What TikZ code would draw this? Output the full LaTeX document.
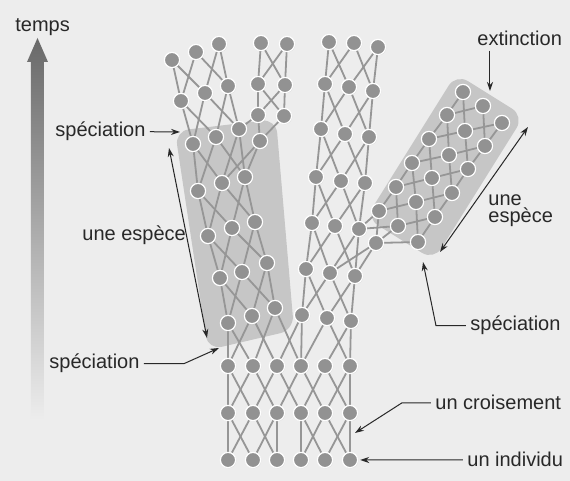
\documentclass[tikz,border=0pt]{standalone}
\usepackage{fontspec}
\setmainfont{Liberation Sans}
\usetikzlibrary{arrows.meta,calc,shadows}
\pgfdeclarelayer{paper}
\pgfdeclarelayer{bg}
\pgfsetlayers{paper,bg,main}
\definecolor{paper}{RGB}{237,237,237}
\definecolor{areagray}{RGB}{198,198,198}
\definecolor{dot}{RGB}{146,146,146}
\definecolor{linkgray}{RGB}{150,150,150}
\definecolor{timegray}{RGB}{105,105,105}
\definecolor{ink}{RGB}{40,40,40}

\begin{document}
\begin{tikzpicture}[
  x=0.5pt, y=-0.5pt,
  font=\fontsize{10}{8.5}\selectfont,
  ind/.style={circle, minimum size=7.6pt, inner sep=0pt, fill=dot, draw=white, line width=0.6pt,
    drop shadow={opacity=0.3, shadow xshift=0.3pt, shadow yshift=-0.3pt}},
  link/.style={draw=linkgray, line width=0.9pt},
  speciesarea/.style={fill=areagray, rounded corners=7pt},
  lbl/.style={inner sep=2pt, anchor=base west, text=ink},
  pointer/.style={-{Stealth[length=4.5pt,width=3pt]}, line width=0.5pt, draw=ink},
  span/.style={{Stealth[length=4.5pt,width=3pt]}-{Stealth[length=4.5pt,width=3pt]}, line width=0.5pt, draw=ink}
]
\useasboundingbox (0,0) rectangle (570,481);
\begin{pgfonlayer}{paper}
  \fill[paper] (0,0) rectangle (570,481);
\end{pgfonlayer}

% the two species
\begin{pgfonlayer}{bg}
  \path[speciesarea] (175,131) -- (276,119) -- (294,330) -- (208,350) -- cycle;
  \node[speciesarea, rotate=58, minimum width=85pt, minimum height=40pt] (sp2) at (445,167) {};
\end{pgfonlayer}

% individuals, one row per generation
\foreach \row/\pts in {
    t1/{228/460,253/460,277/460,301/460,325/460,350/460},
    t2/{228/413,253/413,277/413,301/413,325/413,350/413},
    t3/{228/366,253/366,277/366,301/366,325/366,350/366},
    a1/{228/323,252/316,275/308},
    a2/{220/278,242/272,267/263},
    a3/{208/236,232/228,255/222},
    a4/{198/191,222/183,245/177},
    a5/{193/144,216/137,239/129,260/141},
    b1/{181/101,205/93,228/86},
    b2/{172/60,196/52,219/44},
    c1/{258/115,284/116},
    c2/{258/84,285/85},
    c3/{261/43,287/44},
    m1/{302/315,327/318,351/321},
    m2/{306/269,330/273,355/276},
    m3/{312/223,335/226,359/229},
    m4/{316/177,341/181,365/183},
    m5/{321/129,345/134,369/137},
    m6/{325/84,349/87,373/91},
    m7/{329/42,354/43,378/47},
    g1/{379/211,398/226,418/242},
    g2/{396/187,416/202,435/217},
    g3/{412/163,432/178,452/193},
    g4/{429/139,449/155,468/169},
    g5/{447/115,465/131,485/146},
    g6/{463/92,483/106,502/123}}
  \foreach \x/\y [count=\i] in \pts
    \node[ind] (\row-\i) at (\x,\y) {};
\node[ind] (found) at (376,243) {};

% crossings between parents and children
\begin{pgfonlayer}{bg}
  \foreach \c/\p in {a2/a1,a3/a2,a4/a3,b1/a5,b2/b1,m2/m1,m3/m2,m4/m3,m5/m4,m6/m5,m7/m6,g2/g1,g3/g2,g4/g3,g5/g4,g6/g5}
    \foreach \i/\j in {1/1,1/2,2/1,2/3,3/2,3/3}
      \draw[link] (\c-\i) -- (\p-\j);
  \foreach \c/\p in {c2/c1,c3/c2}
    \foreach \i/\j in {1/1,1/2,2/1,2/2}
      \draw[link] (\c-\i) -- (\p-\j);
  \foreach \i/\j in {1/1,1/2,2/1,2/3,3/2,3/4,4/3,4/5,5/4,5/6,6/5,6/6}
    \draw[link] (t3-\i) -- (t2-\j);
  \foreach \i/\j in {1/1,1/2,2/1,2/3,3/3,3/2,4/4,4/5,5/4,5/6,6/6,6/5}
    \draw[link] (t2-\i) -- (t1-\j);
  \foreach \a/\b in {a1-1/t3-1,a1-1/t3-2,a1-2/t3-1,a1-2/t3-3,a1-3/t3-2,a1-3/t3-4,
      m1-1/t3-3,m1-1/t3-4,m1-2/t3-4,m1-2/t3-6,m1-3/t3-5,m1-3/t3-6,
      a5-1/a4-1,a5-1/a4-2,a5-2/a4-1,a5-2/a4-3,a5-3/a4-2,a5-3/a4-3,a5-4/a4-2,a5-4/a4-3,
      c1-1/a5-3,c1-1/a5-4,c1-2/a5-4,
      found/m2-2,found/m2-3,g1-1/m3-3,g1-1/found,g1-2/m3-3,g1-2/found,g1-3/found}
    \draw[link] (\a) -- (\b);
\end{pgfonlayer}

% time arrow
\shade[top color=timegray, bottom color=paper]
  (31,420) -- (31,62) -- (27,62) -- (37.5,38) -- (48,62) -- (44,62) -- (44,420) -- cycle;

% labels
\node[lbl] (temps) at (11,32) {temps};
\node[lbl] (spec1) at (51,137) {spéciation};
\node[lbl] (esp1) at (78,241) {une espèce};
\node[lbl] (spec2) at (45,369) {spéciation};
\node[lbl] (ext) at (473,46) {extinction};
\node[lbl, align=left, anchor=north west] (esp2) at (484,190) {une\\espèce};
\node[lbl] (spec3) at (466,331) {spéciation};
\node[lbl] (cross) at (431,410) {un croisement};
\node[lbl] (indiv) at (463,467) {un individu};

\coordinate (split1) at (180,132);
\coordinate (top1) at (169,148);
\coordinate (bot1) at (207,338);
\coordinate (split2) at (219,348);
\coordinate (top2) at (490,91);
\coordinate (tip2) at (528,127);
\coordinate (foot2) at (440,252);
\coordinate (split3) at (423,262);
\coordinate (xover) at (355,433);

\draw[pointer] (spec1.east) -- (split1);
\draw[span] (top1) -- (bot1);
\draw[pointer] (spec2.east) -- ++(40,0) -- (split2);
\draw[pointer] (ext.south -| top2) -- (top2);
\draw[span] (foot2) -- (tip2);
\draw[pointer] (spec3.west) -- ++(-30,0) -- (split3);
\draw[pointer] (cross.west) -- ++(-29,0) -- (xover);
\draw[pointer, shorten >=1pt] (indiv.west) -- (t1-6);

\end{tikzpicture}
\end{document}
